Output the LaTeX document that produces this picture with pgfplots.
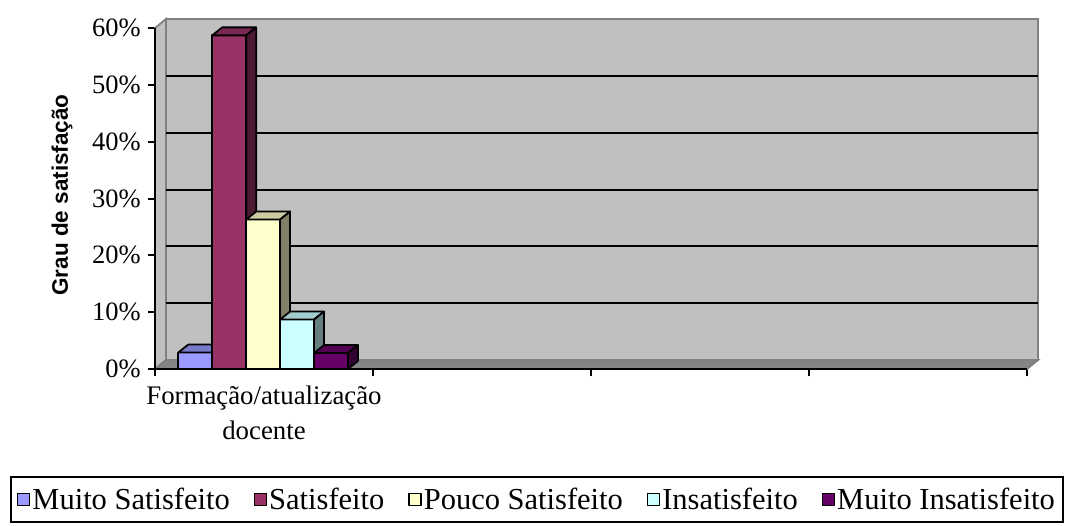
\documentclass[border=0pt]{standalone}
\usepackage{fontspec}
\setmainfont{Liberation Serif}
\setsansfont{Liberation Sans}
\usepackage{pgfplots}
\pgfplotsset{compat=1.18}

\definecolor{c1}{HTML}{9999FF}
\definecolor{c2}{HTML}{993366}
\definecolor{c3}{HTML}{FFFFCC}
\definecolor{c4}{HTML}{CCFFFF}
\definecolor{c5}{HTML}{660066}
\definecolor{wall}{HTML}{C0C0C0}
\definecolor{edge}{HTML}{808080}
\definecolor{floorc}{HTML}{858585}

% #1 bar index, #2 value (%), #3 colour, #4 legend name
\newcommand{\barthreed}[4]{%
  \pgfmathsetmacro\xa{0.107+#1*0.1556}%
  \pgfmathsetmacro\xb{\xa+0.1556}%
  \pgfmathsetmacro\xc{\xa+0.0459}%
  \pgfmathsetmacro\xd{\xb+0.0459}%
  \pgfmathsetmacro\vt{#2+1.408}%
  \addplot[fill=#3, draw=black, line width=1.8pt, line join=round]
    coordinates {(\xa,0) (\xb,0) (\xb,#2) (\xa,#2) (\xa,0)};
  \addlegendentry{#4}
  \addplot[forget plot, fill=#3!80!black, draw=black, line width=1.8pt, line join=round]
    coordinates {(\xa,#2) (\xb,#2) (\xd,\vt) (\xc,\vt) (\xa,#2)};
  \addplot[forget plot, fill=#3!50!black, draw=black, line width=1.8pt, line join=round]
    coordinates {(\xb,0) (\xd,1.408) (\xd,\vt) (\xb,#2) (\xb,0)};
}

\begin{document}
\begin{tikzpicture}
\useasboundingbox (-155pt,-156pt) rectangle (915pt,369pt);
\begin{axis}[
  scale only axis, width=883pt, height=350pt,
  at={(0pt,0pt)}, anchor=south west,
  xmin=0, xmax=4.0505, ymin=0, ymax=61.584,
  axis x line*=bottom, axis y line*=left,
  axis line style={draw=none},
  xtick={0,1,2,3,4}, xticklabels={},
  ytick={0,10,20,30,40,50,60},
  yticklabels={0\%,10\%,20\%,30\%,40\%,50\%,60\%},
  tick align=outside, major tick length=7pt,
  tick style={black, line width=2pt},
  yticklabel style={font=\fontsize{26.5}{30}\selectfont, anchor=east, inner sep=0pt, xshift=-7pt},
  extra x ticks={0.5},
  extra x tick labels={{Formação/atualização\\docente}},
  extra x tick style={major tick length=0pt,
    tick label style={align=center, font=\fontsize{26.8}{34.5}\selectfont, anchor=north, inner sep=0pt, yshift=-17pt}},
  ylabel={Grau de satisfação},
  ylabel style={font=\sffamily\bfseries\fontsize{22.5}{27}\selectfont,
    at={(axis description cs:-0.1053,0.497)}, anchor=center},
  legend columns=5,
  legend cell align=left,
  legend image code/.code={\draw[#1, draw=black, line width=1.4pt] (0pt,-6pt) rectangle (12pt,6pt);},
  legend style={at={(axis description cs:-0.1642,-0.3057)}, anchor=north west,
    draw=black, line width=2pt, font=\fontsize{30.5}{35}\selectfont,
    inner xsep=6pt, inner ysep=9pt,
    /tikz/every even column/.append style={column sep=22pt}},
  clip=false,
]
% walls and floor
\addplot[forget plot, fill=wall, draw=edge, line width=1.8pt]
  coordinates {(0.0505,1.584) (4.0505,1.584) (4.0505,61.584) (0.0505,61.584) (0.0505,1.584)};
\addplot[forget plot, fill=wall, draw=edge, line width=1.8pt]
  coordinates {(0,0) (0.0505,1.584) (0.0505,61.584) (0,60) (0,0)};
\addplot[forget plot, fill=floorc, draw=edge, line width=1.8pt]
  coordinates {(0,0) (4,0) (4.0505,1.584) (0.0505,1.584) (0,0)};
% gridlines on back wall
\pgfplotsinvokeforeach{11.584,21.584,31.584,41.584,51.584}{
  \addplot[forget plot, black, line width=2pt] coordinates {(0.0505,#1) (4.0505,#1)};
}
% front axis lines
\addplot[forget plot, black, line width=2.2pt] coordinates {(0,60) (0,0) (4,0)};
% bars
\barthreed{0}{2.9}{c1}{Muito Satisfeito}
\barthreed{1}{58.7}{c2}{Satisfeito}
\barthreed{2}{26.3}{c3}{Pouco Satisfeito}
\barthreed{3}{8.7}{c4}{Insatisfeito}
\barthreed{4}{2.8}{c5}{Muito Insatisfeito}
\end{axis}
\end{tikzpicture}
\end{document}
